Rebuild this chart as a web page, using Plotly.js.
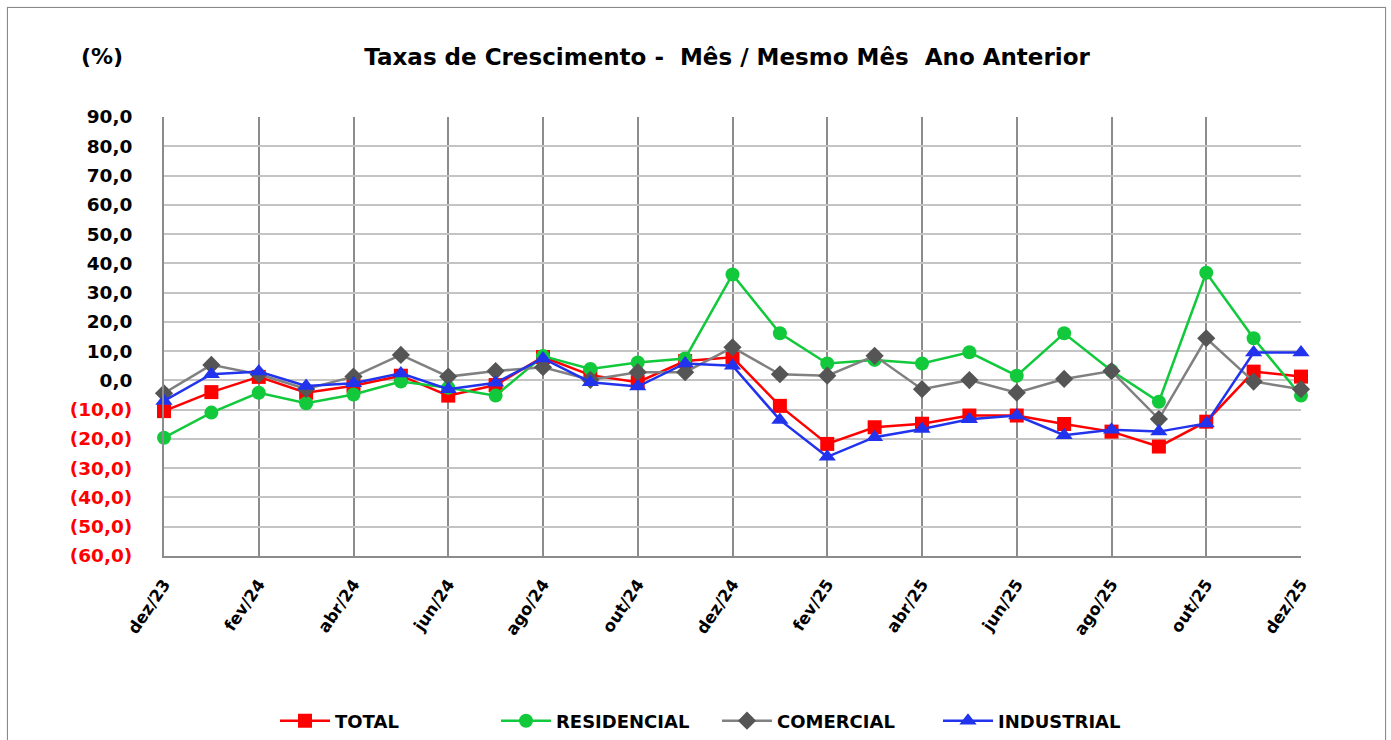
<!DOCTYPE html>
<html>
<head>
<meta charset="utf-8">
<script src="https://cdn.plot.ly/plotly-3.0.1.min.js"></script>
<style>
html,body{margin:0;padding:0;background:#fff;}
#frame{position:absolute;left:7px;top:7px;width:1377px;height:760px;border:1px solid #8a8a8a;box-shadow:0 0 1px #bbb;}
#chart{position:absolute;left:0;top:0;width:1391px;height:740px;}
</style>
</head>
<body>
<div id="frame"></div>
<div id="chart"></div>
<script>
const months = ["dez/23","jan/24","fev/24","mar/24","abr/24","mai/24","jun/24","jul/24","ago/24","set/24","out/24","nov/24","dez/24","jan/25","fev/25","mar/25","abr/25","mai/25","jun/25","jul/25","ago/25","set/25","out/25","nov/25","dez/25"];
const total =       [-10.5,-4.0, 1.2,-4.2,-1.8, 1.6,-5.2,-1.6, 8.0, 1.8,-0.6, 6.6, 7.9, -8.7,-21.7,-16.0,-14.8,-12.0,-12.0,-14.9,-17.5,-22.6,-14.1, 3.0, 1.3];
const residencial = [-19.6,-11.0,-4.2,-7.8,-4.8,-0.4,-2.5,-5.2, 8.3, 3.9, 6.1, 7.5,36.2, 16.1,  5.8,  7.0,  5.8,  9.6,  1.6, 16.1,  3.3, -7.3, 36.8,14.4,-5.2];
const comercial =   [-4.4, 5.3, 2.1,-2.9, 1.3, 8.7, 1.3, 3.2, 4.5, 0.2, 2.8, 2.8,11.3,  2.1,  1.6,  8.4, -3.0,  0.1, -4.2,  0.5,  3.2,-13.2, 14.4,-0.4,-3.0];
const industrial =  [-7.0, 2.1, 3.0,-1.9,-1.0, 2.4,-3.0,-0.8, 7.5,-0.6,-2.1, 5.8, 5.0,-13.5,-26.1,-19.4,-16.6,-13.3,-12.0,-18.7,-16.9,-17.5,-14.7, 9.5, 9.5];
const xTicks = ["dez/23","fev/24","abr/24","jun/24","ago/24","out/24","dez/24","fev/25","abr/25","jun/25","ago/25","out/25","dez/25"];
const yTickVals = [90,80,70,60,50,40,30,20,10,0,-10,-20,-30,-40,-50,-60];
const yTickText = ["90,0","80,0","70,0","60,0","50,0","40,0","30,0","20,0","10,0","0,0",
  '<span style="color:#ff0000">(10,0)</span>','<span style="color:#ff0000">(20,0)</span>','<span style="color:#ff0000">(30,0)</span>',
  '<span style="color:#ff0000">(40,0)</span>','<span style="color:#ff0000">(50,0)</span>','<span style="color:#ff0000">(60,0)</span>'];

const traces = [
  {name:"TOTAL", y: total, line:{color:"#ff0000",width:2.5}, marker:{symbol:"square",size:14,color:"#ff0000"}},
  {name:"RESIDENCIAL", y: residencial, line:{color:"#12c93c",width:2.5}, marker:{symbol:"circle",size:14,color:"#12c93c"}},
  {name:"COMERCIAL", y: comercial, line:{color:"#808080",width:2.5}, marker:{symbol:"diamond",size:14,color:"#555555"}},
  {name:"INDUSTRIAL", y: industrial, line:{color:"#2233ee",width:2.5}, marker:{symbol:"triangle-up",size:15,color:"#2233ee"}}
].map(t => Object.assign({x: months, type:"scatter", mode:"lines+markers", cliponaxis:false}, t));

const F = "DejaVu Sans, Verdana, sans-serif";
const layout = {
  width:1391, height:740,
  paper_bgcolor:"rgba(0,0,0,0)", plot_bgcolor:"#ffffff",
  margin:{l:164, r:90, t:117, b:184, autoexpand:false},
  showlegend:true,
  title:{text:"Taxas de Crescimento -  Mês / Mesmo Mês  Ano Anterior", font:{family:F, size:23, color:"#000", weight:"bold"},
         x:0.5227, xanchor:"center", y:1-57/740, yanchor:"middle", xref:"container", yref:"container"},
  xaxis:{type:"category", categoryorder:"array", categoryarray: months, range:[0,24], automargin:false,
         tickmode:"array", tickvals:xTicks, ticktext:xTicks, tickangle:-56,
         tickfont:{family:F, size:16.5, color:"#000", weight:"bold"},
         showgrid:true, gridcolor:"#8c8c8c", gridwidth:2,
         showline:true, linecolor:"#8c8c8c", linewidth:2, mirror:false,
         ticks:"", ticklabelstandoff:10, zeroline:false, fixedrange:true},
  yaxis:{range:[-60,90], tickmode:"array", tickvals:yTickVals, ticktext:yTickText, automargin:false,
         tickfont:{family:F, size:18.5, color:"#000", weight:"bold"},
         showgrid:true, gridcolor:"#c4c4c4", gridwidth:2,
         showline:true, linecolor:"#8c8c8c", linewidth:2,
         zeroline:false, ticks:"", ticklabelstandoff:26, fixedrange:true},
  annotations:[{text:"(%)", xref:"paper", yref:"paper", x:(102-164)/1137, y:(556-57)/439, xanchor:"center", yanchor:"middle",
                showarrow:false, font:{family:F, size:22, color:"#000", weight:"bold"}}],
  legend:{orientation:"h", xref:"container", yref:"container", x:275/1391, xanchor:"left", y:1-721/740, yanchor:"middle",
          font:{family:F, size:18, color:"#000", weight:"bold"}, entrywidth:156, entrywidthmode:"pixels",
          bgcolor:"rgba(0,0,0,0)", itemwidth:50}
};
Plotly.newPlot("chart", traces, layout, {displayModeBar:false, staticPlot:true});
</script>
</body>
</html>
